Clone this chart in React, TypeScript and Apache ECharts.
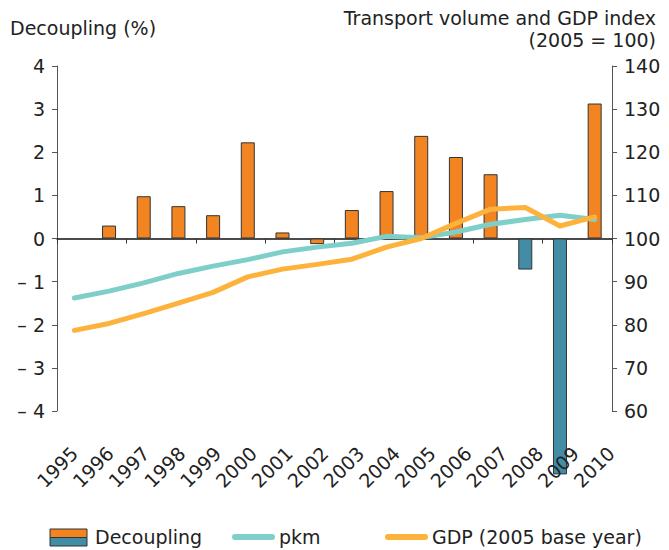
import React, { useEffect, useRef } from 'react';
import * as echarts from 'echarts';

const years = ['1995', '1996', '1997', '1998', '1999', '2000', '2001', '2002', '2003', '2004', '2005', '2006', '2007', '2008', '2009', '2010'];
const decoupling: (number | null)[] = [null, 0.30, 0.98, 0.75, 0.54, 2.23, 0.14, -0.13, 0.66, 1.10, 2.38, 1.89, 1.49, -0.72, -5.47, 3.13];
const pkm = [86.2, 87.8, 89.7, 91.9, 93.6, 95.1, 96.9, 98.0, 98.9, 100.5, 100.2, 101.5, 103.3, 104.4, 105.4, 104.4];
const gdp = [78.7, 80.3, 82.6, 85.0, 87.5, 91.1, 92.9, 94.0, 95.2, 98.0, 100.0, 103.5, 106.8, 107.2, 102.9, 105.0];

const ORANGE = '#F28522';
const BLUE = '#428CA6';
const TEAL = '#7ECFCA';
const GDPC = '#FDB23B';
const FONT = '"DejaVu Sans", Verdana, sans-serif';
const TXT = '#222';
const AX = '#555';
const FS = 19;

export default function App() {
  const ref = useRef<HTMLDivElement>(null);
  useEffect(() => {
    document.body.style.margin = '0';
    const chart = echarts.init(ref.current!, null, { renderer: 'svg' });
    const fmt = (v: number) => (v < 0 ? '\u2013 ' + Math.abs(v) : String(v));
    chart.setOption({
      animation: false,
      textStyle: { fontFamily: FONT },
      grid: [
        { left: 57, right: 57, top: 66, height: 345 },
        { left: 56.5, width: 572.5, top: 66, height: 345 },
      ],
      xAxis: [
        {
          type: 'category',
          gridIndex: 0,
          data: years,
          boundaryGap: true,
          axisLine: { onZero: true, lineStyle: { color: '#111', width: 1.5 } },
          axisTick: { show: true, length: 5, lineStyle: { color: '#333' } },
          axisLabel: { show: false },
          splitLine: { show: false },
        },
        {
          type: 'category',
          gridIndex: 1,
          data: years,
          position: 'bottom',
          boundaryGap: true,
          axisLine: { show: false, onZero: false },
          axisTick: { show: false },
          axisLabel: { rotate: 45, margin: 39, fontSize: FS, color: TXT, fontFamily: FONT, interval: 0 },
          splitLine: { show: false },
          z: 10,
        },
      ],
      yAxis: [
        {
          type: 'value',
          gridIndex: 0,
          min: -4,
          max: 4,
          interval: 1,
          position: 'left',
          axisLine: { show: true, lineStyle: { color: AX } },
          axisTick: { show: true, length: 5, lineStyle: { color: AX } },
          axisLabel: { formatter: fmt, margin: 12, fontSize: FS, color: TXT, fontFamily: FONT },
          splitLine: { show: false },
        },
        {
          type: 'value',
          gridIndex: 0,
          min: 60,
          max: 140,
          interval: 10,
          position: 'right',
          axisLine: { show: true, lineStyle: { color: AX } },
          axisTick: { show: true, length: 5, lineStyle: { color: AX } },
          axisLabel: { margin: 12, fontSize: FS, color: TXT, fontFamily: FONT },
          splitLine: { show: false },
        },
        {
          type: 'value',
          gridIndex: 1,
          show: false,
          min: 0,
          max: 1,
        },
      ],
      series: [
        {
          type: 'bar',
          name: 'Decoupling',
          xAxisIndex: 0,
          yAxisIndex: 0,
          barWidth: 14,
          clip: false,
          data: decoupling.map((v) => ({
            value: v,
            itemStyle: { color: v !== null && v < -0.5 ? BLUE : ORANGE },
          })),
          itemStyle: { borderColor: '#333', borderWidth: 1 },
          z: 2,
        },
        {
          type: 'line',
          name: 'pkm',
          xAxisIndex: 0,
          yAxisIndex: 1,
          data: pkm,
          symbol: 'none',
          lineStyle: { width: 5, color: TEAL, cap: 'round', join: 'round' },
          z: 3,
        },
        {
          type: 'line',
          name: 'GDP (2005 base year)',
          xAxisIndex: 0,
          yAxisIndex: 1,
          data: gdp,
          symbol: 'none',
          lineStyle: { width: 5, color: GDPC, cap: 'round', join: 'round' },
          z: 4,
        },
      ],
      graphic: [
        { type: 'text', left: 10, top: 18, style: { text: 'Decoupling (%)', fontSize: FS, fill: TXT, fontFamily: FONT } },
        { type: 'text', right: 13, top: 8, style: { text: 'Transport volume and GDP index', fontSize: FS, fill: TXT, fontFamily: FONT } },
        { type: 'text', right: 13, top: 30, style: { text: '(2005 = 100)', fontSize: FS, fill: TXT, fontFamily: FONT } },
        { type: 'rect', shape: { x: 50, y: 529, width: 37, height: 8.5 }, style: { fill: ORANGE, stroke: '#333', lineWidth: 1 } },
        { type: 'rect', shape: { x: 50, y: 537.5, width: 37, height: 8.5 }, style: { fill: BLUE, stroke: '#333', lineWidth: 1 } },
        { type: 'text', x: 95, y: 537, style: { text: 'Decoupling', fontSize: FS, fill: TXT, fontFamily: FONT, verticalAlign: 'middle' } },
        { type: 'line', shape: { x1: 235, y1: 537, x2: 272, y2: 537 }, style: { stroke: TEAL, lineWidth: 6, lineCap: 'round' } },
        { type: 'text', x: 279, y: 537, style: { text: 'pkm', fontSize: FS, fill: TXT, fontFamily: FONT, verticalAlign: 'middle' } },
        { type: 'line', shape: { x1: 388, y1: 537, x2: 425, y2: 537 }, style: { stroke: GDPC, lineWidth: 6, lineCap: 'round' } },
        { type: 'text', x: 432, y: 537, style: { text: 'GDP (2005 base year)', fontSize: FS, fill: TXT, fontFamily: FONT, verticalAlign: 'middle' } },
      ],
    });
    return () => chart.dispose();
  }, []);
  return <div ref={ref} style={{ width: 669, height: 550 }} />;
}
